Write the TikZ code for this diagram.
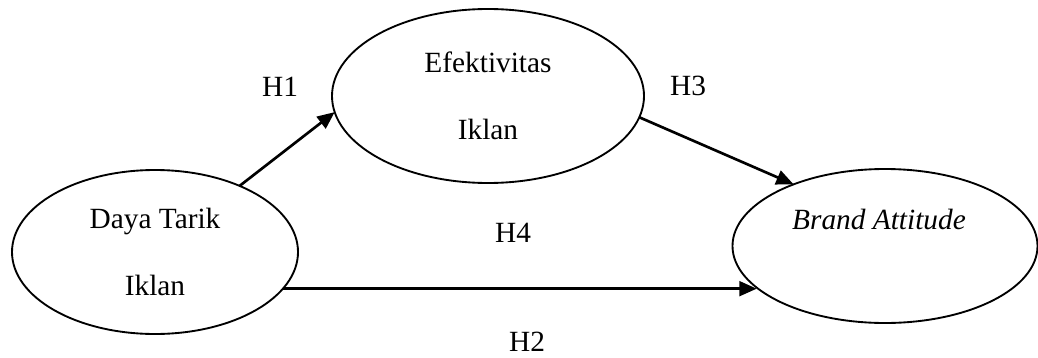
\documentclass[tikz,border=0pt]{standalone}
\usepackage{fontspec}
\setmainfont{Liberation Serif}
\usetikzlibrary{arrows.meta,shapes.geometric}
\begin{document}
\begin{tikzpicture}[x=0.75pt,y=-0.75pt,
  ell/.style={draw,ellipse,line width=1.4pt,inner sep=0pt,outer sep=0pt,align=center,
    font=\fontsize{22}{50}\selectfont},
  arr/.style={line width=2pt,-{Triangle[length=13pt,width=11pt]}},
  lbl/.style={font=\fontsize{22}{26}\selectfont,inner sep=0pt}]
\useasboundingbox (0,0) rectangle (1038,357);
\node[ell,minimum width=286*0.75pt,minimum height=164*0.75pt] (dt) at (155,252) {Daya Tarik\\Iklan};
\node[ell,minimum width=312*0.75pt,minimum height=174*0.75pt] (ef) at (488,96) {Efektivitas\\Iklan};
\node[ell,minimum width=305*0.75pt,minimum height=154*0.75pt] (ba) at (885,246) {};
\node[lbl,font=\fontsize{22}{26}\selectfont\itshape] (batext) at (879,219) {Brand Attitude};
\draw[arr] (dt.38) -- (ef.186);
\draw[arr] (ef.352) -- (ba.146);
\draw[arr] (dt.344) -- (dt.344 -| ba.198);
\node[lbl] (h1) at (280,87) {H1};
\node[lbl] (h3) at (688,86) {H3};
\node[lbl] (h4) at (513,233) {H4};
\node[lbl] (h2) at (527,342) {H2};
\end{tikzpicture}
\end{document}
